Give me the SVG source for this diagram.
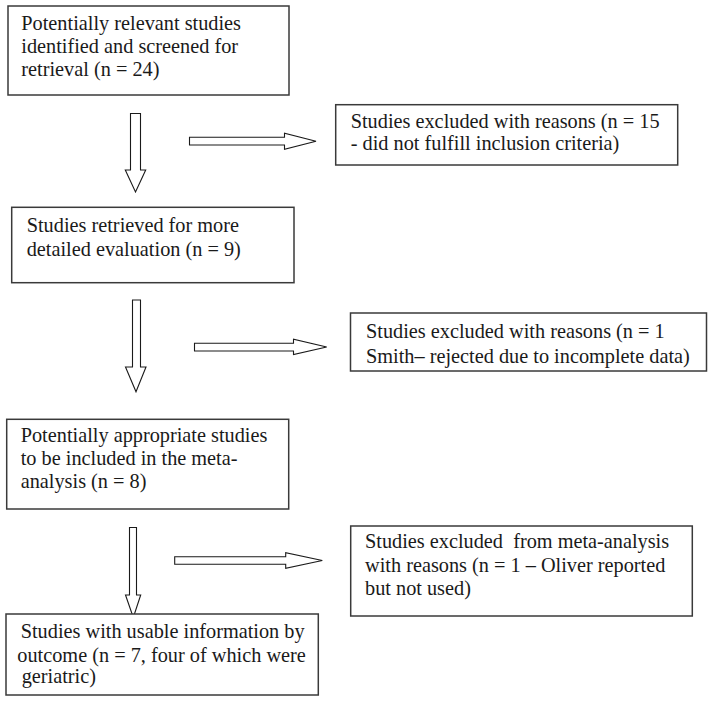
<svg xmlns="http://www.w3.org/2000/svg" width="714" height="702" viewBox="0 0 714 702">
<style>
.box{fill:#fff;stroke:#3a3a3a;stroke-width:1.5}
.arr{fill:#fff;stroke:#1a1a1a;stroke-width:1.1;stroke-linejoin:miter}
.t{font-family:'Liberation Serif','Times New Roman','DejaVu Serif',serif;font-size:20.3px;fill:#1a1a1a}
</style>
<rect width="714" height="702" fill="#fff"/>
<g id="connectors">
<polygon class="arr" points="130.5,113.5 140.5,113.5 140.5,170 145.7,170 135.5,192 125.3,170 130.5,170"/>
<polygon class="arr" points="189.5,137.3 284.5,137.3 284.5,133.3 316,141.2 284.5,149.3 284.5,145 189.5,145"/>
<polygon class="arr" points="132.5,300 140.5,300 140.5,367 146,367 136,391.7 125.5,367 132.5,367"/>
<polygon class="arr" points="194.5,343.3 293.5,343.3 293.5,339.3 326.7,347 293.5,354.5 293.5,351 194.5,351"/>
<polygon class="arr" points="129.5,527.5 136.5,527.5 136.5,595 140.7,595 133.3,617.5 125.5,595 129.5,595"/>
<polygon class="arr" points="174.7,556.7 285.7,556.7 285.7,552.7 322.3,560.5 285.7,568.3 285.7,564.3 174.7,564.3"/>
</g>
<g id="n1" class="t" font-family="Liberation Serif, serif">
<rect class="box" x="8" y="6" width="281" height="89"/>
<text x="21.3" y="30">Potentially relevant studies</text>
<text x="21.3" y="53">identified and screened for</text>
<text x="21.3" y="76">retrieval (n = 24)</text>
</g>
<g id="n2" class="t" font-family="Liberation Serif, serif">
<rect class="box" x="335.7" y="104.7" width="342" height="60.3"/>
<text x="350.7" y="128.3">Studies excluded with reasons (n = 15</text>
<text x="350.7" y="150">- did not fulfill inclusion criteria)</text>
</g>
<g id="n3" class="t" font-family="Liberation Serif, serif">
<rect class="box" x="11.7" y="207.3" width="282.3" height="75.4"/>
<text x="26.7" y="231.5">Studies retrieved for more</text>
<text x="26.7" y="256">detailed evaluation (n = 9)</text>
</g>
<g id="n4" class="t" font-family="Liberation Serif, serif">
<rect class="box" x="350.5" y="313" width="356" height="58"/>
<text x="366" y="338">Studies excluded with reasons (n = 1</text>
<text x="366" y="363">Smith– rejected due to incomplete data)</text>
</g>
<g id="n5" class="t" font-family="Liberation Serif, serif">
<rect class="box" x="6.7" y="419.3" width="282" height="89.7"/>
<text x="20.7" y="441.7">Potentially appropriate studies</text>
<text x="20.7" y="465">to be included in the meta-</text>
<text x="20.7" y="488.3">analysis (n = 8)</text>
</g>
<g id="n6" class="t" font-family="Liberation Serif, serif">
<rect class="box" x="350.7" y="526" width="341.6" height="90"/>
<text x="365" y="548.3" xml:space="preserve">Studies excluded  from meta-analysis</text>
<text x="365" y="571.7">with reasons (n = 1 – Oliver reported</text>
<text x="365" y="595">but not used)</text>
</g>
<g id="n7" class="t" font-family="Liberation Serif, serif">
<rect class="box" x="6" y="614" width="312.3" height="81"/>
<text x="20.7" y="637.7">Studies with usable information by</text>
<text x="17.3" y="661.7">outcome (n = 7, four of which were</text>
<text x="21.7" y="683.3">geriatric)</text>
</g>
</svg>
